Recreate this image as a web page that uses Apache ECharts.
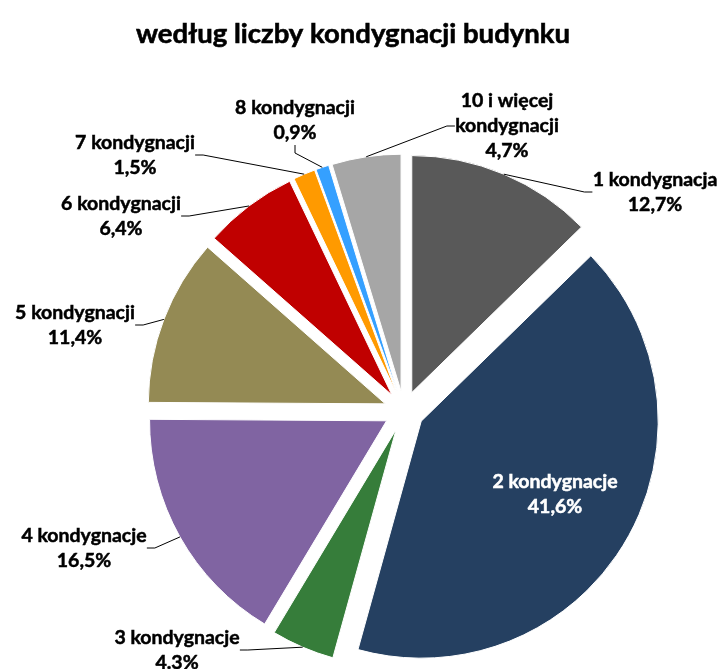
<!DOCTYPE html>
<html>
<head>
<meta charset="utf-8">
<script src="https://cdn.jsdelivr.net/npm/echarts@6/dist/echarts.min.js"></script>
<style>
html, body { margin: 0; padding: 0; background: #fff; }
#chart { width: 719px; height: 669px; }
</style>
</head>
<body>
<div id="chart"></div>
<script>
// dane
var categories = ['1 kondygnacja', '2 kondygnacje', '3 kondygnacje', '4 kondygnacje',
    '5 kondygnacji', '6 kondygnacji', '7 kondygnacji', '8 kondygnacji', '10 i więcej\nkondygnacji'];
var shares = [12.7, 41.6, 4.3, 16.5, 11.4, 6.4, 1.5, 0.9, 4.7];
var shareLabels = ['12,7%', '41,6%', '4.3%', '16,5%', '11,4%', '6,4%', '1,5%', '0,9%', '4,7%'];
var colors = ['#595959', '#254061', '#367D3A', '#8064A2', '#948A54', '#C00000', '#FF9A00', '#35A0FF', '#A6A6A6'];

// gdzie stoja etykiety (srodek bloku tekstu)
var labelPos = [[655, 192], [555, 494], [177, 650], [84, 548], [75, 325],
    [121, 216], [135, 155], [295, 120], [507, 126]];

var chart = echarts.init(document.getElementById('chart'));

var pieData = [];
var labelData = [];
for (var i = 0; i < shares.length; i++) {
    pieData.push({
        name: categories[i],
        value: shares[i],
        selected: true,
        itemStyle: { color: colors[i] }
    });
    var item = { name: categories[i], value: shares[i] };
    if (i === 1) {
        item.label = { color: '#FFFFFF', textBorderColor: '#FFFFFF', position: 'inside' };
        item.labelLine = { show: false };
    }
    labelData.push(item);
}

var center = [404, 411];

var option = {
    animation: false,
    title: {
        text: 'według liczby kondygnacji budynku',
        left: 348,
        top: 15,
        textAlign: 'center',
        textStyle: {
            fontFamily: 'Lato',
            fontWeight: 'bold',
            fontSize: 27.5,
            color: '#000',
            textBorderColor: '#000',
            textBorderWidth: 0.6
        }
    },
    series: [{
        // wycinki, wszystkie odsuniete od srodka
        type: 'pie',
        z: 2,
        center: center,
        radius: 237,
        startAngle: 90,
        selectedMode: 'multiple',
        selectedOffset: 20,
        silent: true,
        itemStyle: { borderColor: '#fff', borderWidth: 1 },
        label: { show: false },
        labelLine: { show: false },
        data: pieData
    }, {
        // tylko etykiety i linie odniesienia
        type: 'pie',
        z: 3,
        center: center,
        radius: 257,
        startAngle: 90,
        silent: true,
        itemStyle: { color: 'rgba(0,0,0,0)' },
        label: {
            show: true,
            formatter: function (p) {
                return p.name + '\n' + shareLabels[p.dataIndex];
            },
            fontFamily: 'Lato',
            fontWeight: 'bold',
            fontSize: 19.5,
            lineHeight: 25,
            color: '#000',
            textBorderColor: '#000',
            textBorderWidth: 0.5,
            align: 'center'
        },
        labelLine: {
            show: true,
            length: 10,
            length2: 8,
            lineStyle: { color: '#000', width: 1 }
        },
        labelLayout: function (params) {
            var pos = labelPos[params.dataIndex];
            return {
                x: pos[0],
                y: pos[1],
                align: 'center',
                verticalAlign: 'middle'
            };
        },
        data: labelData
    }]
};

chart.setOption(option);
</script>
</body>
</html>
